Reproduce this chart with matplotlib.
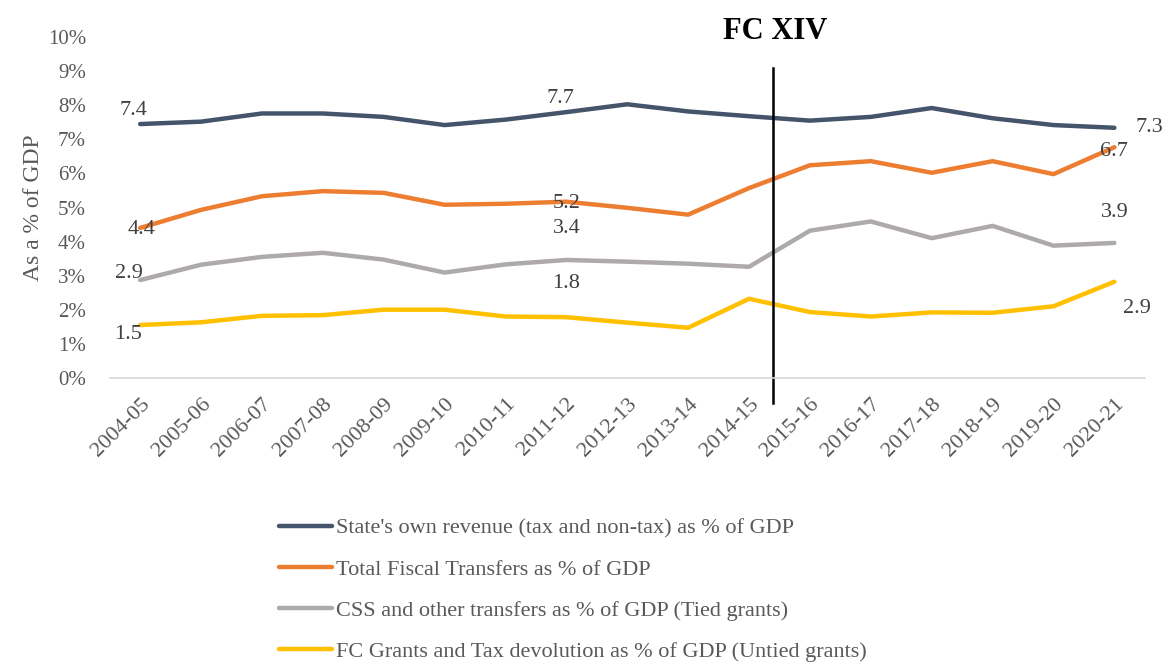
import matplotlib.pyplot as plt
from matplotlib.ticker import FuncFormatter

years = ['2004-05', '2005-06', '2006-07', '2007-08', '2008-09', '2009-10', '2010-11',
         '2011-12', '2012-13', '2013-14', '2014-15', '2015-16', '2016-17', '2017-18',
         '2018-19', '2019-20', '2020-21']

own_revenue = [7.45, 7.52, 7.76, 7.76, 7.66, 7.42, 7.58, 7.8, 8.03, 7.82, 7.68, 7.55, 7.66,
               7.92, 7.62, 7.42, 7.34]
total_transfers = [4.4, 4.93, 5.33, 5.48, 5.43, 5.08, 5.11, 5.17, 4.99, 4.79, 5.57, 6.24,
                   6.36, 6.02, 6.36, 5.98, 6.77]
tied_grants = [2.87, 3.32, 3.55, 3.67, 3.47, 3.09, 3.33, 3.46, 3.41, 3.35, 3.26, 4.32,
               4.59, 4.1, 4.46, 3.88, 3.96]
untied_grants = [1.55, 1.63, 1.82, 1.84, 2.0, 2.0, 1.8, 1.78, 1.62, 1.47, 2.32, 1.93,
                 1.8, 1.92, 1.91, 2.1, 2.82]

labels = ["State's own revenue (tax and non-tax) as % of GDP",
          'Total Fiscal Transfers as % of GDP',
          'CSS and other transfers as % of GDP (Tied grants)',
          'FC Grants and Tax devolution as % of GDP (Untied grants)']
colors = ['#44546A', '#ED7D31', '#AEAAAA', '#FFC000']

# printed data labels: (series index, year index, text, offset in points)
data_labels = [
    (0, 0, '7.4', (-5, 10)), (0, 7, '7.7', (-4, 10)), (0, 16, '7.3', (25, 0)),
    (1, 0, '4.4', (1, -1)), (1, 7, '5.2', (0, -1)), (1, 16, '6.7', (0, -3)),
    (2, 0, '2.9', (-8, 5)), (2, 7, '3.4', (0, 23)), (2, 16, '3.9', (0, 22)),
    (3, 0, '1.5', (-9, -7)), (3, 7, '1.8', (0, 24)), (3, 16, '2.9', (16, -19)),
]

fc_line_x = 10.4

plt.rcParams['font.family'] = ['Liberation Serif', 'DejaVu Serif']
grey = '#595959'

fig = plt.figure(figsize=(11.67, 6.64), dpi=100)
ax = fig.add_axes([0.094, 0.431, 0.887, 0.513])

series = [own_revenue, total_transfers, tied_grants, untied_grants]
x = list(range(len(years)))
for vals, lab, col in zip(series, labels, colors):
    ax.plot(x, vals, color=col, lw=3.2, label=lab, solid_capstyle='round')

for si, yi, txt, off in data_labels:
    ax.annotate(txt, (x[yi], series[si][yi]), xytext=off, textcoords='offset points',
                ha='center', va='center', fontsize=16, color='#404040')

ax.set_xlim(-0.5, len(years) - 0.5)
ax.set_ylim(0, 10)
ax.set_yticks(range(0, 11))
ax.yaxis.set_major_formatter(FuncFormatter(lambda v, p: f'{v:.0f}%'))
ax.set_xticks(x)
ax.set_xticklabels(years, rotation=45, ha='right', rotation_mode='anchor')
ax.tick_params(axis='both', length=0, labelsize=15, labelcolor=grey)
ax.tick_params(axis='x', labelsize=16, pad=12)
ax.tick_params(axis='y', pad=17)
for s in ['top', 'right', 'left']:
    ax.spines[s].set_visible(False)
ax.spines['bottom'].set_color('#D9D9D9')
ax.spines['bottom'].set_linewidth(1.2)

ax.set_ylabel('As a % of GDP', fontsize=17, color=grey, labelpad=3)

ax.plot([fc_line_x, fc_line_x], [9.1, -0.75], color='black', lw=1.8, clip_on=False)
ax.text(fc_line_x + 0.03, 10.18, 'FC XIV', ha='center', va='center', fontsize=22,
        fontweight='bold', color='black')

fig.legend(loc='upper left', bbox_to_anchor=(0.222, 0.25), frameon=False, fontsize=16,
           labelcolor=grey, handlelength=2.4, handletextpad=0.15, labelspacing=0.92)

fig.savefig('out.png', dpi=100, facecolor='white')
